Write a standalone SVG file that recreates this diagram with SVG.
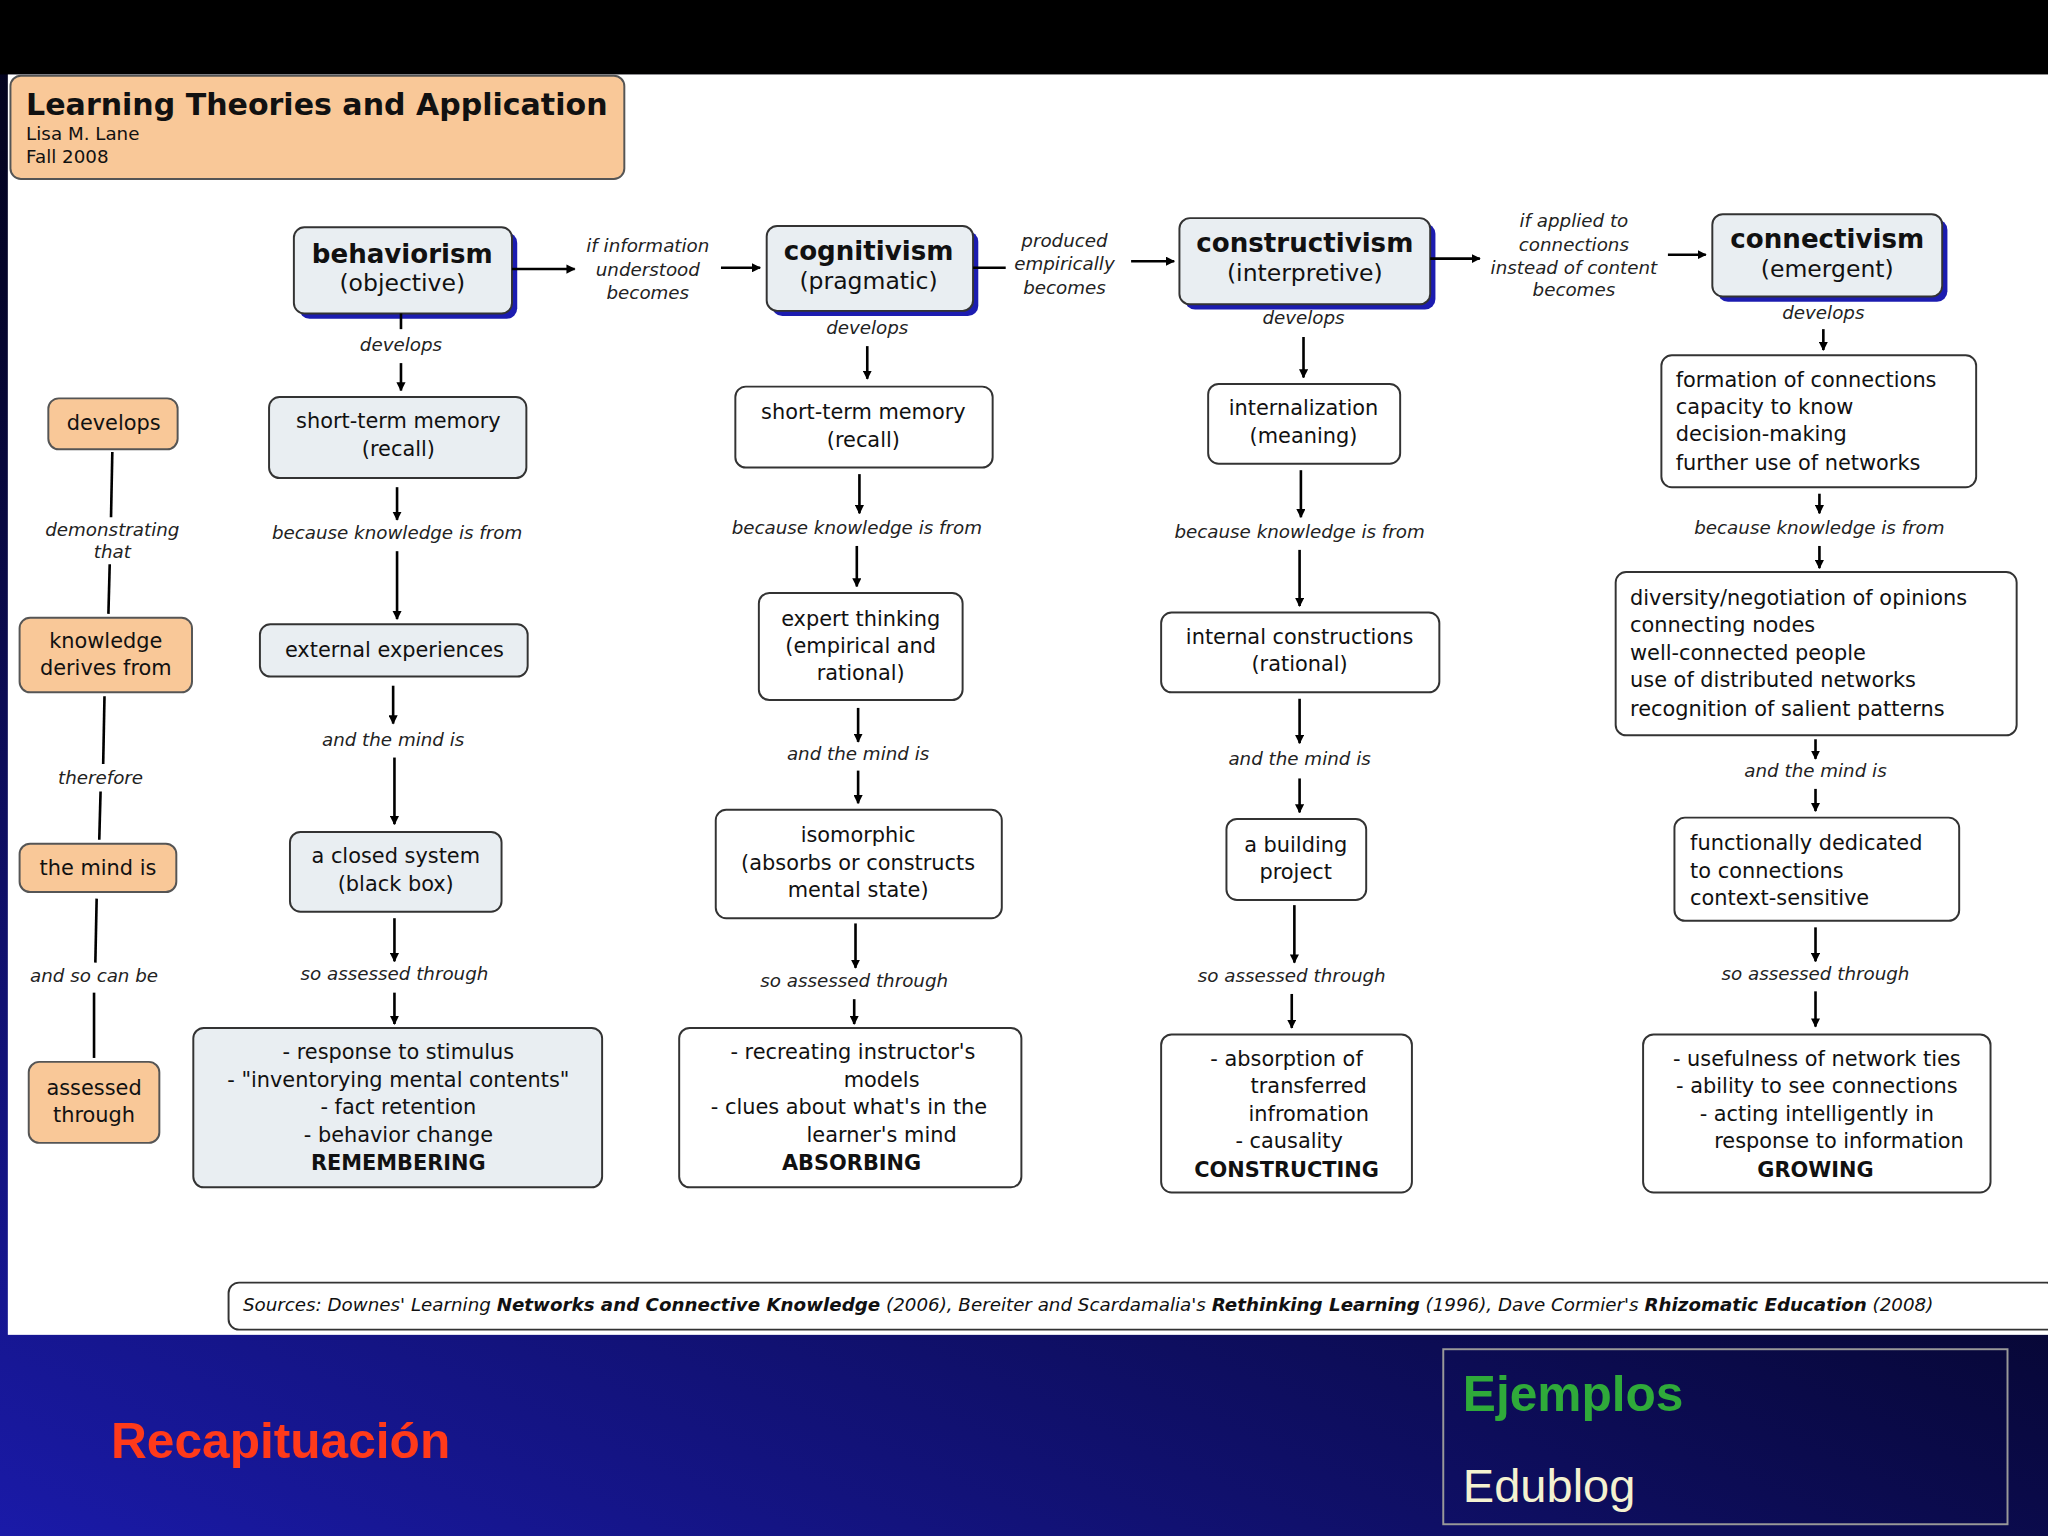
<svg xmlns="http://www.w3.org/2000/svg" width="2048" height="1536" viewBox="0 0 2048 1536">
<defs>
<marker id="ah" viewBox="0 0 10 10" refX="9" refY="5" markerWidth="7" markerHeight="7" orient="auto" markerUnits="userSpaceOnUse"><path d="M0,0L10,5L0,10z" fill="#000"/></marker>
<linearGradient id="bg" x1="0" y1="1" x2="0.6" y2="0"><stop offset="0" stop-color="#1a1aa8"/><stop offset="0.6" stop-color="#05052a"/><stop offset="1" stop-color="#000"/></linearGradient>
<style>
text{font-family:"DejaVu Sans","Liberation Sans",sans-serif;fill:#111}
.b{fill:#fff;stroke:#333;stroke-width:1.5}
.g{fill:#e9eef2;stroke:#333;stroke-width:1.5}
.o{fill:#f9c898;stroke:#555;stroke-width:1.5}
.sh{fill:#1c1cb0}
.t{font-size:16px;text-anchor:middle}
.tl{font-size:16px}
.h{font-size:20px;font-weight:bold;text-anchor:middle}
.s{font-size:18px;text-anchor:middle}
.l{font-size:14px;font-style:italic;text-anchor:middle;fill:#222}
.c line,.c path{stroke:#000;stroke-width:2;fill:none}
.a{marker-end:url(#ah)}
</style>
</defs>
<rect width="2048" height="1536" fill="url(#bg)"/>
<g transform="scale(1.30612)">
<rect x="0" y="0" width="1568" height="57" fill="#000"/>
<rect x="6" y="57" width="1562" height="965" fill="#fff"/>
<g id="title"><rect class="o" x="8" y="58" width="470" height="79" rx="8"/><text x="20" y="88" style="font-size:23px;font-weight:bold">Learning Theories and Application</text><text x="20" y="107" style="font-size:14px">Lisa M. Lane</text><text x="20" y="125" style="font-size:14px">Fall 2008</text></g>
<g id="behaviorism"><rect class="sh" x="229" y="178" width="167" height="66" rx="8"/><rect class="g" x="225" y="174" width="167" height="66" rx="8"/><text class="h" x="308" y="201">behaviorism</text><text class="s" x="308" y="223">(objective)</text></g>
<g id="cognitivism"><rect class="sh" x="591" y="177" width="158" height="65" rx="8"/><rect class="g" x="587" y="173" width="158" height="65" rx="8"/><text class="h" x="665" y="199">cognitivism</text><text class="s" x="665" y="221">(pragmatic)</text></g>
<g id="constructivism"><rect class="sh" x="907" y="171" width="192" height="66" rx="8"/><rect class="g" x="903" y="167" width="192" height="66" rx="8"/><text class="h" x="999" y="193">constructivism</text><text class="s" x="999" y="215">(interpretive)</text></g>
<g id="connectivism"><rect class="sh" x="1315" y="168" width="176" height="63" rx="8"/><rect class="g" x="1311" y="164" width="176" height="63" rx="8"/><text class="h" x="1399" y="190">connectivism</text><text class="s" x="1399" y="212">(emergent)</text></g>
<g id="b1"><rect class="g" x="206" y="304" width="197" height="62" rx="8"/><text class="t" x="305" y="328">short-term memory</text><text class="t" x="305" y="349">(recall)</text></g>
<g id="b2"><rect class="g" x="199" y="478" width="205" height="40" rx="8"/><text class="t" x="302" y="503">external experiences</text></g>
<g id="b3"><rect class="g" x="222" y="637" width="162" height="61" rx="8"/><text class="t" x="303" y="661">a closed system</text><text class="t" x="303" y="682">(black box)</text></g>
<g id="b4"><rect class="g" x="148" y="787" width="313" height="122" rx="8"/><text class="t" x="305" y="811">- response to stimulus</text><text class="t" x="305" y="832">- "inventorying mental contents"</text><text class="t" x="305" y="853">- fact retention</text><text class="t" x="305" y="874">- behavior change</text><text class="t" x="305" y="896" font-weight="bold">REMEMBERING</text></g>
<g id="c1"><rect class="b" x="563" y="296" width="197" height="62" rx="8"/><text class="t" x="661" y="321">short-term memory</text><text class="t" x="661" y="342">(recall)</text></g>
<g id="c2"><rect class="b" x="581" y="454" width="156" height="82" rx="8"/><text class="t" x="659" y="479">expert thinking</text><text class="t" x="659" y="500">(empirical and</text><text class="t" x="659" y="521">rational)</text></g>
<g id="c3"><rect class="b" x="548" y="620" width="219" height="83" rx="8"/><text class="t" x="657" y="645">isomorphic</text><text class="t" x="657" y="666">(absorbs or constructs</text><text class="t" x="657" y="687">mental state)</text></g>
<g id="c4"><rect class="b" x="520" y="787" width="262" height="122" rx="8"/><text class="t" x="653" y="811">- recreating instructor's</text><text class="t" x="675" y="832">models</text><text class="t" x="650" y="853">- clues about what's in the</text><text class="t" x="675" y="874">learner's mind</text><text class="t" x="652" y="896" font-weight="bold">ABSORBING</text></g>
<g id="d1"><rect class="b" x="925" y="294" width="147" height="61" rx="8"/><text class="t" x="998" y="318">internalization</text><text class="t" x="998" y="339">(meaning)</text></g>
<g id="d2"><rect class="b" x="889" y="469" width="213" height="61" rx="8"/><text class="t" x="995" y="493">internal constructions</text><text class="t" x="995" y="514">(rational)</text></g>
<g id="d3"><rect class="b" x="939" y="627" width="107" height="62" rx="8"/><text class="t" x="992" y="652">a building</text><text class="t" x="992" y="673">project</text></g>
<g id="d4"><rect class="b" x="889" y="792" width="192" height="121" rx="8"/><text class="t" x="985" y="816">- absorption of</text><text class="t" x="1002" y="837">transferred</text><text class="t" x="1002" y="858">infromation</text><text class="t" x="987" y="879">- causality</text><text class="t" x="985" y="901" font-weight="bold">CONSTRUCTING</text></g>
<g id="e1"><rect class="b" x="1272" y="272" width="241" height="101" rx="8"/><text class="tl" x="1283" y="296">formation of connections</text><text class="tl" x="1283" y="317">capacity to know</text><text class="tl" x="1283" y="338">decision-making</text><text class="tl" x="1283" y="360">further use of networks</text></g>
<g id="e2"><rect class="b" x="1237" y="438" width="307" height="125" rx="8"/><text class="tl" x="1248" y="463">diversity/negotiation of opinions</text><text class="tl" x="1248" y="484">connecting nodes</text><text class="tl" x="1248" y="505">well-connected people</text><text class="tl" x="1248" y="526">use of distributed networks</text><text class="tl" x="1248" y="548">recognition of salient patterns</text></g>
<g id="e3"><rect class="b" x="1282" y="626" width="218" height="79" rx="8"/><text class="tl" x="1294" y="651">functionally dedicated</text><text class="tl" x="1294" y="672">  to connections</text><text class="tl" x="1294" y="693">context-sensitive</text></g>
<g id="e4"><rect class="b" x="1258" y="792" width="266" height="121" rx="8"/><text class="t" x="1391" y="816">- usefulness of network ties</text><text class="t" x="1391" y="837">- ability to see connections</text><text class="t" x="1391" y="858">- acting intelligently in</text><text class="t" x="1408" y="879">response to information</text><text class="t" x="1390" y="901" font-weight="bold">GROWING</text></g>
<g id="k1"><rect class="o" x="37" y="305" width="99" height="39" rx="8"/><text class="t" x="87" y="329">develops</text></g>
<g id="k2"><rect class="o" x="15" y="473" width="132" height="57" rx="8"/><text class="t" x="81" y="496">knowledge</text><text class="t" x="81" y="517">derives from</text></g>
<g id="k3"><rect class="o" x="15" y="646" width="120" height="37" rx="8"/><text class="t" x="75" y="670">the mind is</text></g>
<g id="k4"><rect class="o" x="22" y="813" width="100" height="62" rx="8"/><text class="t" x="72" y="838">assessed</text><text class="t" x="72" y="859">through</text></g>
<g id="src"><rect class="b" x="175" y="982" width="1400" height="36" rx="8"/><text x="186" y="1004" style="font-size:14px;font-style:italic">Sources: Downes' Learning <tspan font-weight="bold">Networks and Connective Knowledge</tspan> (2006), Bereiter and Scardamalia's <tspan font-weight="bold">Rethinking Learning</tspan> (1996), Dave Cormier's <tspan font-weight="bold">Rhizomatic Education</tspan> (2008)</text></g>
<g id="connectors" class="c">
<line class="a" x1="392" y1="206" x2="440" y2="206"/><line class="a" x1="552" y1="205" x2="582" y2="205"/>
<line x1="745" y1="205" x2="770" y2="205"/><line class="a" x1="866" y1="200" x2="899" y2="200"/>
<line class="a" x1="1095" y1="198" x2="1133" y2="198"/><line class="a" x1="1277" y1="195" x2="1306" y2="195"/>
<line x1="307" y1="240" x2="307" y2="252"/><line class="a" x1="307" y1="278" x2="307" y2="299"/>
<line class="a" x1="304" y1="373" x2="304" y2="398"/><line class="a" x1="304" y1="422" x2="304" y2="474"/>
<line class="a" x1="301" y1="525" x2="301" y2="554"/><line class="a" x1="302" y1="580" x2="302" y2="631"/>
<line class="a" x1="302" y1="703" x2="302" y2="736"/><line class="a" x1="302" y1="760" x2="302" y2="784"/>
<line class="a" x1="664" y1="265" x2="664" y2="290"/>
<line class="a" x1="658" y1="363" x2="658" y2="393"/><line class="a" x1="656" y1="418" x2="656" y2="449"/>
<line class="a" x1="657" y1="542" x2="657" y2="568"/><line class="a" x1="657" y1="590" x2="657" y2="615"/>
<line class="a" x1="655" y1="707" x2="655" y2="741"/><line class="a" x1="654" y1="765" x2="654" y2="784"/>
<line class="a" x1="998" y1="258" x2="998" y2="289"/>
<line class="a" x1="996" y1="360" x2="996" y2="396"/><line class="a" x1="995" y1="421" x2="995" y2="464"/>
<line class="a" x1="995" y1="535" x2="995" y2="569"/><line class="a" x1="995" y1="596" x2="995" y2="622"/>
<line class="a" x1="991" y1="693" x2="991" y2="737"/><line class="a" x1="989" y1="761" x2="989" y2="787"/>
<line class="a" x1="1396" y1="252" x2="1396" y2="268"/>
<line class="a" x1="1393" y1="378" x2="1393" y2="393"/><line class="a" x1="1393" y1="418" x2="1393" y2="435"/>
<line class="a" x1="1390" y1="566" x2="1390" y2="581"/><line class="a" x1="1390" y1="604" x2="1390" y2="621"/>
<line class="a" x1="1390" y1="710" x2="1390" y2="736"/><line class="a" x1="1390" y1="759" x2="1390" y2="786"/>
<line x1="86" y1="346" x2="85" y2="396"/><line x1="84" y1="432" x2="83" y2="470"/>
<line x1="80" y1="533" x2="79" y2="585"/><line x1="77" y1="606" x2="76" y2="643"/>
<line x1="74" y1="688" x2="73" y2="737"/><line x1="72" y1="760" x2="72" y2="810"/>
</g>
<g id="labels">
<text class="l" x="496" y="193">if information</text><text class="l" x="496" y="211">understood</text><text class="l" x="496" y="229">becomes</text>
<text class="l" x="815" y="189">produced</text><text class="l" x="815" y="207">empirically</text><text class="l" x="815" y="225">becomes</text>
<text class="l" x="1205" y="174">if applied to</text><text class="l" x="1205" y="192">connections</text><text class="l" x="1205" y="210">instead of content</text><text class="l" x="1205" y="227">becomes</text>
<text class="l" x="307" y="269">develops</text><text class="l" x="304" y="413">because knowledge is from</text><text class="l" x="301" y="571">and the mind is</text><text class="l" x="302" y="750">so assessed through</text>
<text class="l" x="664" y="256">develops</text><text class="l" x="656" y="409">because knowledge is from</text><text class="l" x="657" y="582">and the mind is</text><text class="l" x="654" y="756">so assessed through</text>
<text class="l" x="998" y="248">develops</text><text class="l" x="995" y="412">because knowledge is from</text><text class="l" x="995" y="586">and the mind is</text><text class="l" x="989" y="752">so assessed through</text>
<text class="l" x="1396" y="244">develops</text><text class="l" x="1393" y="409">because knowledge is from</text><text class="l" x="1390" y="595">and the mind is</text><text class="l" x="1390" y="750">so assessed through</text>
<text class="l" x="86" y="410">demonstrating</text><text class="l" x="86" y="427">that</text><text class="l" x="77" y="600">therefore</text><text class="l" x="72" y="752">and so can be</text>
</g>
<g id="footer">
<text x="85" y="1116" style="font-family:'Liberation Sans',sans-serif;font-size:38px;font-weight:bold;fill:#ff3a1a">Recapituación</text>
<rect x="1105" y="1033" width="432" height="134" fill="none" stroke="#999" stroke-width="1.5"/>
<text x="1120" y="1080" style="font-family:'Liberation Sans',sans-serif;font-size:38px;font-weight:bold;fill:#2faa3a">Ejemplos</text>
<text x="1120" y="1150" style="font-family:'Liberation Sans',sans-serif;font-size:36px;fill:#f4f2d0">Edublog</text>
</g>
</g>
</svg>
